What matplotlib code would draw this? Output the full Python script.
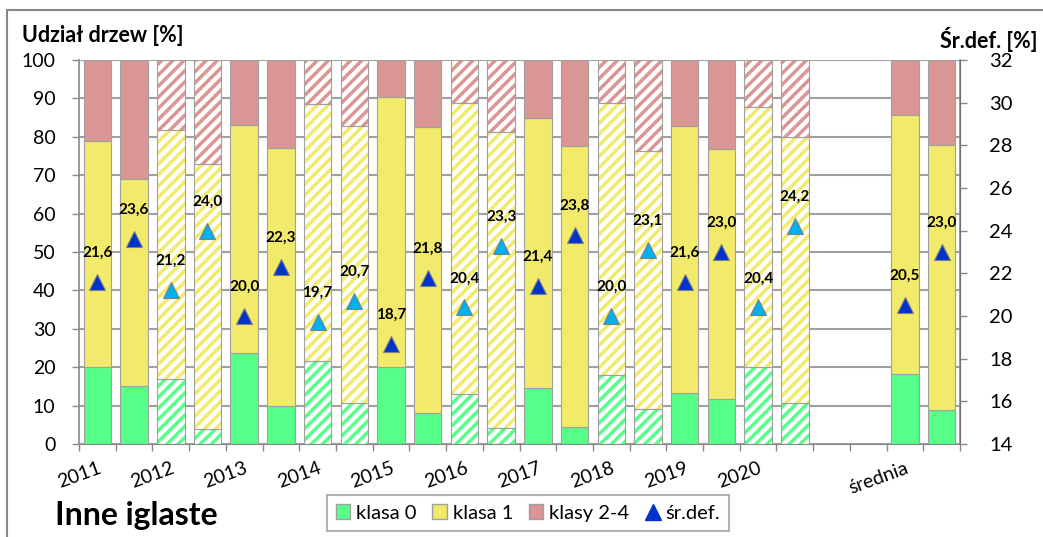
import matplotlib
matplotlib.use("Agg")
import matplotlib.pyplot as plt
from matplotlib.patches import Patch, Rectangle
from matplotlib.lines import Line2D
import numpy as np

plt.rcParams['font.family'] = ['Lato', 'DejaVu Sans']
plt.rcParams['hatch.linewidth'] = 2.5

# top of each stack segment (cumulative %)
klasa0 = [20.0, 15.0, 16.9, 3.9, 23.6, 9.9, 21.6, 10.6, 20.1, 8.0,
          12.9, 4.1, 14.6, 4.3, 17.9, 9.0, 13.2, 11.8, 20.1, 10.6,
          18.1, 8.8]
klasa01 = [78.8, 69.1, 81.9, 72.8, 83.1, 77.0, 88.5, 82.7, 90.4, 82.6,
           88.7, 81.3, 85.0, 77.6, 88.9, 76.3, 82.9, 76.9, 87.7, 80.0,
           85.6, 77.8]
srdef = [21.6, 23.6, 21.2, 24.0, 20.0, 22.3, 19.7, 20.7, 18.7, 21.8,
         20.4, 23.3, 21.4, 23.8, 20.0, 23.1, 21.6, 23.0, 20.4, 24.2,
         20.5, 23.0]
hatched = [False, False, True, True] * 5 + [False, False]
labels = ['2011', '2012', '2013', '2014', '2015', '2016', '2017',
          '2018', '2019', '2020', '', 'średnia']

klasa1 = [b - a for a, b in zip(klasa0, klasa01)]
klasa24 = [100 - b for b in klasa01]

c_green = '#55FF88'
c_yellow = '#F2EA6A'
c_pink = '#DA9694'
c_dark = '#0033CC'
c_light = '#00B0F0'
c_edge = '#A0A0A0'

pos = list(range(1, 21)) + [23, 24]

fig = plt.figure(figsize=(10.43, 5.37), dpi=100)
ax = fig.add_axes([79 / 1043, 1 - 444 / 537, (960 - 79) / 1043, 384 / 537])
ax2 = ax.twinx()

w = 0.75
for i, x in enumerate(pos):
    segs = [(0, klasa0[i], c_green), (klasa0[i], klasa1[i], c_yellow),
            (klasa01[i], klasa24[i], c_pink)]
    for bottom, h, col in segs:
        if hatched[i]:
            ax.bar(x, h, w, bottom=bottom, color='white', edgecolor=col,
                   hatch='///', linewidth=0, zorder=2)
            ax.bar(x, h, w, bottom=bottom, fill=False, edgecolor=c_edge,
                   linewidth=0.8, zorder=3)
        else:
            ax.bar(x, h, w, bottom=bottom, color=col, edgecolor=c_edge,
                   linewidth=0.8, zorder=2)

ax.set_xlim(0.5, 24.5)
ax.set_ylim(0, 100)
ax.set_yticks(range(0, 101, 10))
ax.grid(axis='y', color='#A0A0A0', linewidth=1.5, zorder=0)
ax.set_axisbelow(True)

ax.set_xticks(range(1, 25, 2))
ax.set_xticklabels(labels, rotation=20, ha='right', rotation_mode='anchor',
                   fontsize=14)
ax.set_xticks(np.arange(0.5, 25, 1), minor=True)
ax.tick_params(axis='x', which='major', length=0, pad=11)
ax.tick_params(axis='x', which='minor', length=5, color='#888888', width=1)
ax.tick_params(axis='y', length=5, color='#888888', width=1, labelsize=14, pad=12)

for s in ['top']:
    ax.spines[s].set_visible(False)
    ax2.spines[s].set_visible(False)
ax.spines['left'].set_color('#888888')
ax.spines['bottom'].set_color('#888888')
ax.spines['left'].set_linewidth(1.2)
ax2.spines['right'].set_color('#888888')
ax2.spines['right'].set_linewidth(1.2)
ax2.spines['left'].set_visible(False)
ax2.spines['bottom'].set_visible(False)

ax2.set_ylim(14, 32)
ax2.set_yticks(range(14, 33, 2))
ax2.tick_params(axis='y', length=5, color='#888888', width=1, labelsize=14.5, pad=16)

for i, x in enumerate(pos):
    col = c_light if hatched[i] else c_dark
    ax2.plot(x, srdef[i], marker='^', markersize=11, color=col,
             markeredgecolor='#7F7F7F', markeredgewidth=0.8, zorder=5)
    ax2.annotate(f'{srdef[i]:.1f}'.replace('.', ','), (x, srdef[i]),
                 xytext=(0, 21), textcoords='offset points', ha='center',
                 va='center', fontsize=11, fontweight='bold')

fig.text(22 / 1043, 1 - 36 / 537, 'Udział drzew [%]', fontsize=15.5,
         fontweight='bold', va='center', ha='left')
fig.text(1037 / 1043, 1 - 40 / 537, 'Śr.def. [%]', fontsize=15.5,
         fontweight='bold', va='center', ha='right')
fig.text(55 / 1043, 1 - 515 / 537, 'Inne iglaste', fontsize=23,
         fontweight='bold', va='center', ha='left')

handles = [Patch(facecolor=c_green, edgecolor=c_edge, label='klasa 0'),
           Patch(facecolor=c_yellow, edgecolor=c_edge, label='klasa 1'),
           Patch(facecolor=c_pink, edgecolor=c_edge, label='klasy 2-4'),
           Line2D([], [], marker='^', color=c_dark, linestyle='none',
                  markersize=11, label='śr.def.')]
leg = fig.legend(handles=handles, loc='center', ncol=4,
                 bbox_to_anchor=(528 / 1043, 1 - 513 / 537), fontsize=14.5,
                 frameon=True, fancybox=False, handlelength=0.7,
                 handleheight=0.7, handletextpad=0.3, columnspacing=0.8,
                 borderpad=0.45)
leg.get_frame().set_edgecolor('#A0A0A0')
leg.get_frame().set_linewidth(1.5)

fig.patches.append(Rectangle((7 / 1043, -0.05), 1.2, 1 - 10 / 537 + 0.05,
                             transform=fig.transFigure, fill=False,
                             edgecolor='#888888', linewidth=1.5))

fig.savefig('out.png', dpi=100)
